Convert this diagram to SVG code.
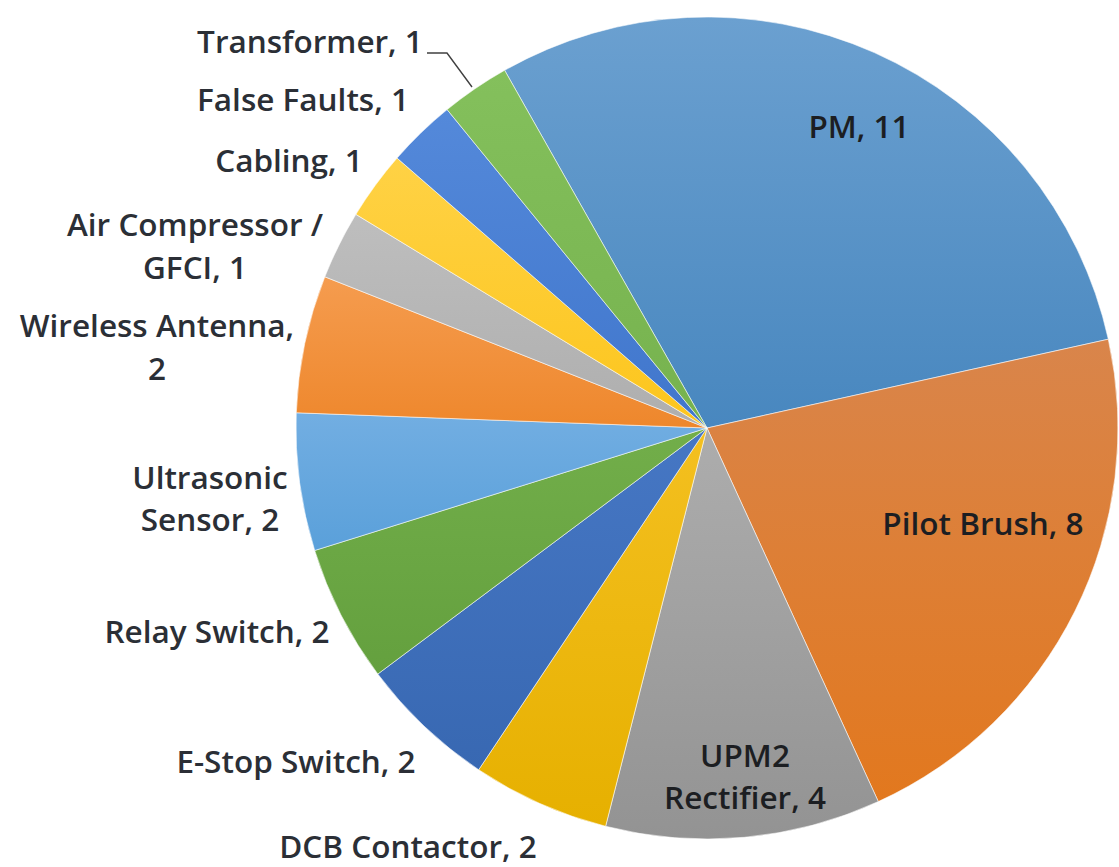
<svg xmlns="http://www.w3.org/2000/svg" width="1119" height="867" viewBox="0 0 1119 867">
  <style>
    .slice { stroke: #ffffff; stroke-width: 1; stroke-opacity: 0.55; stroke-linejoin: round; }
    .lbl { font-family: "Open Sans", "Liberation Sans", sans-serif; font-size: 31.5px; font-weight: 600; fill: #2b2f36; text-anchor: middle; }
    .in { fill: #1c1e22; }
    .leader { fill: none; stroke: #404040; stroke-width: 1.4; }
  </style>
  <defs>
    <linearGradient id="gPM" x1="0" y1="0" x2="0" y2="1"><stop offset="0" stop-color="#6BA0D0"/><stop offset="1" stop-color="#4887BF"/></linearGradient>
    <linearGradient id="gPilot" x1="0" y1="0" x2="0" y2="1"><stop offset="0" stop-color="#D9854B"/><stop offset="1" stop-color="#E2781E"/></linearGradient>
    <linearGradient id="gUPM" x1="0" y1="0" x2="0" y2="1"><stop offset="0" stop-color="#ADADAD"/><stop offset="1" stop-color="#939393"/></linearGradient>
    <linearGradient id="gDCB" x1="0" y1="0" x2="0" y2="1"><stop offset="0" stop-color="#F4C020"/><stop offset="1" stop-color="#E6B000"/></linearGradient>
    <linearGradient id="gEStop" x1="0" y1="0" x2="0" y2="1"><stop offset="0" stop-color="#4677C4"/><stop offset="1" stop-color="#3868B2"/></linearGradient>
    <linearGradient id="gRelay" x1="0" y1="0" x2="0" y2="1"><stop offset="0" stop-color="#72AE4A"/><stop offset="1" stop-color="#64A03E"/></linearGradient>
    <linearGradient id="gUltra" x1="0" y1="0" x2="0" y2="1"><stop offset="0" stop-color="#72AEE2"/><stop offset="1" stop-color="#5AA0DA"/></linearGradient>
    <linearGradient id="gWire" x1="0" y1="0" x2="0" y2="1"><stop offset="0" stop-color="#F59C4F"/><stop offset="1" stop-color="#EE872C"/></linearGradient>
    <linearGradient id="gAir" x1="0" y1="0" x2="0" y2="1"><stop offset="0" stop-color="#BEBEBE"/><stop offset="1" stop-color="#AEAEAE"/></linearGradient>
    <linearGradient id="gCab" x1="0" y1="0" x2="0" y2="1"><stop offset="0" stop-color="#FFD245"/><stop offset="1" stop-color="#FCC51C"/></linearGradient>
    <linearGradient id="gFalse" x1="0" y1="0" x2="0" y2="1"><stop offset="0" stop-color="#5489DA"/><stop offset="1" stop-color="#4076CC"/></linearGradient>
    <linearGradient id="gTrans" x1="0" y1="0" x2="0" y2="1"><stop offset="0" stop-color="#84C05C"/><stop offset="1" stop-color="#76B24E"/></linearGradient>
  </defs>

  <rect width="1119" height="867" fill="#ffffff"/>

  <!-- pie: centre (707,428), radius 411, first slice starts at -29.5 degrees -->
  <g id="pie">
    <g id="slice-pm"><path class="slice" fill="url(#gPM)" d="M707 428 L504.62 70.28 A411 411 0 0 1 1108.30 339.23 Z"/></g>
    <g id="slice-pilot-brush"><path class="slice" fill="url(#gPilot)" d="M707 428 L1108.30 339.23 A411 411 0 0 1 878.31 801.60 Z"/></g>
    <g id="slice-upm2"><path class="slice" fill="url(#gUPM)" d="M707 428 L878.31 801.60 A411 411 0 0 1 605.60 826.30 Z"/></g>
    <g id="slice-dcb"><path class="slice" fill="url(#gDCB)" d="M707 428 L605.60 826.30 A411 411 0 0 1 478.66 769.73 Z"/></g>
    <g id="slice-estop"><path class="slice" fill="url(#gEStop)" d="M707 428 L478.66 769.73 A411 411 0 0 1 377.79 674.05 Z"/></g>
    <g id="slice-relay"><path class="slice" fill="url(#gRelay)" d="M707 428 L377.79 674.05 A411 411 0 0 1 314.68 550.49 Z"/></g>
    <g id="slice-ultrasonic"><path class="slice" fill="url(#gUltra)" d="M707 428 L314.68 550.49 A411 411 0 0 1 296.28 412.78 Z"/></g>
    <g id="slice-wireless"><path class="slice" fill="url(#gWire)" d="M707 428 L296.28 412.78 A411 411 0 0 1 324.82 276.81 Z"/></g>
    <g id="slice-air"><path class="slice" fill="url(#gAir)" d="M707 428 L324.82 276.81 A411 411 0 0 1 355.89 214.36 Z"/></g>
    <g id="slice-cabling"><path class="slice" fill="url(#gCab)" d="M707 428 L355.89 214.36 A411 411 0 0 1 397.06 158.07 Z"/></g>
    <g id="slice-false"><path class="slice" fill="url(#gFalse)" d="M707 428 L397.06 158.07 A411 411 0 0 1 447.12 109.59 Z"/></g>
    <g id="slice-transformer"><path class="slice" fill="url(#gTrans)" d="M707 428 L447.12 109.59 A411 411 0 0 1 504.62 70.28 Z"/></g>
  </g>

  <g id="connectors">
    <path class="leader" d="M427 53 L447 53 L472 87"/>
  </g>

  <g id="labels">
    <g id="lbl-pm"><text class="lbl in" x="859" y="138">PM, 11</text></g>
    <g id="lbl-pilot"><text class="lbl in" x="983" y="535">Pilot Brush, 8</text></g>
    <g id="lbl-upm2"><text class="lbl in" x="745" y="767">UPM2</text><text class="lbl in" x="745" y="809">Rectifier, 4</text></g>
    <g id="lbl-dcb"><text class="lbl" x="408" y="858">DCB Contactor, 2</text></g>
    <g id="lbl-estop"><text class="lbl" x="296" y="773">E-Stop Switch, 2</text></g>
    <g id="lbl-relay"><text class="lbl" x="217" y="643">Relay Switch, 2</text></g>
    <g id="lbl-ultrasonic"><text class="lbl" x="210" y="489">Ultrasonic</text><text class="lbl" x="210" y="531">Sensor, 2</text></g>
    <g id="lbl-wireless"><text class="lbl" x="157" y="337">Wireless Antenna,</text><text class="lbl" x="157" y="380">2</text></g>
    <g id="lbl-air"><text class="lbl" x="195" y="236">Air Compressor /</text><text class="lbl" x="195" y="279">GFCI, 1</text></g>
    <g id="lbl-cabling"><text class="lbl" x="289" y="172">Cabling, 1</text></g>
    <g id="lbl-false"><text class="lbl" x="303" y="111">False Faults, 1</text></g>
    <g id="lbl-transformer"><text class="lbl" x="310" y="53">Transformer, 1</text></g>
  </g>
</svg>
